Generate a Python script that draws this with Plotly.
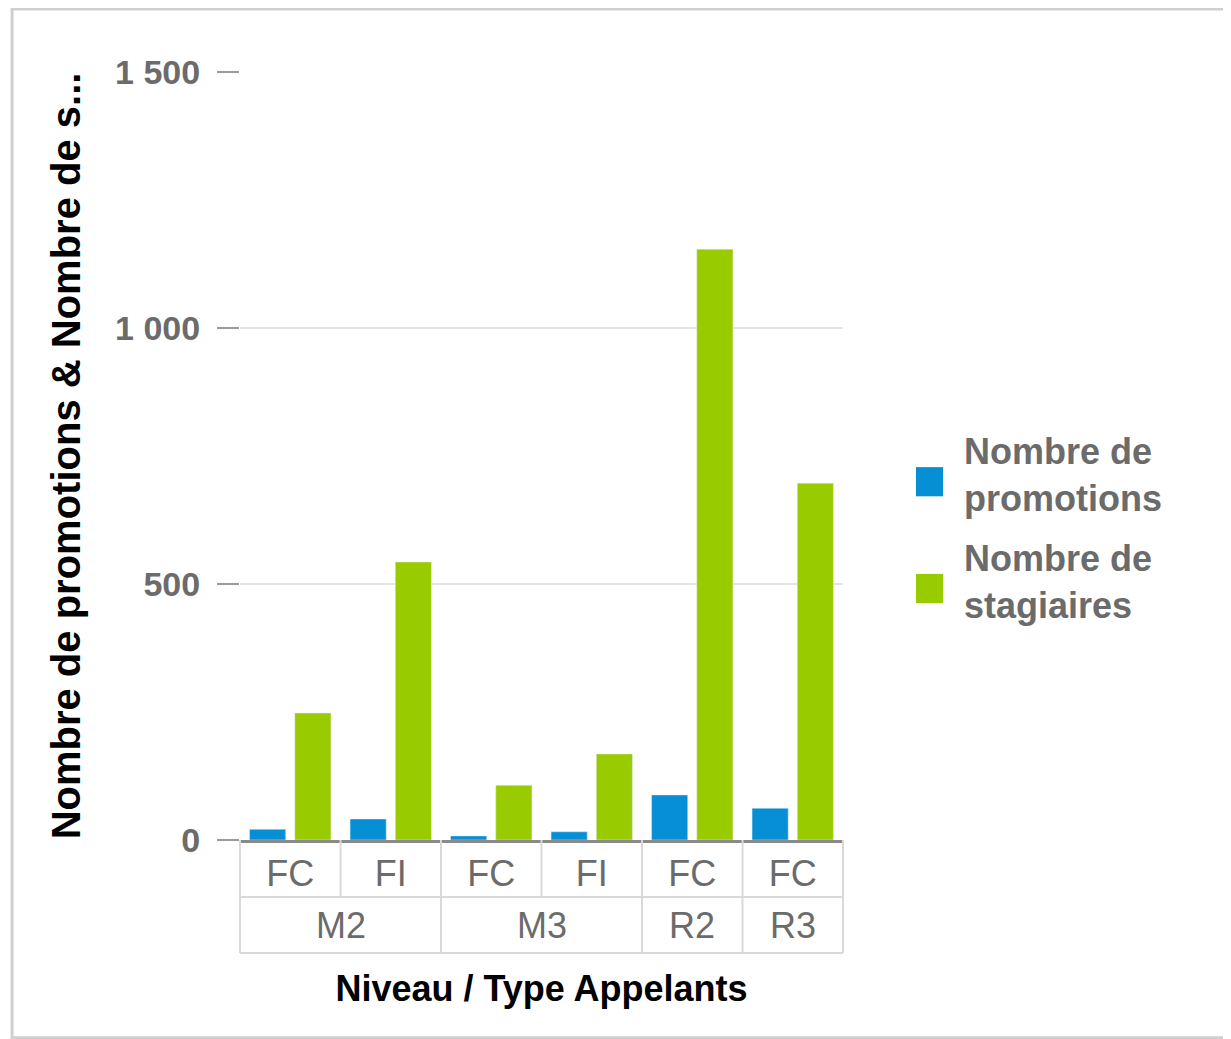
import plotly.graph_objects as go

niveau = ["M2", "M2", "M3", "M3", "R2", "R3"]
type_appelant = ["FC", "FI", "FC", "FI", "FC", "FC"]
nb_promotions = [21, 41, 8, 16, 88, 62]
nb_stagiaires = [248, 543, 107, 168, 1154, 697]
legend_labels = ["Nombre de<br>promotions", "Nombre de<br>stagiaires"]

BLUE = "#078fd6"
GREEN = "#99cc00"
GREY_TXT = "#6b6b6b"
FONT = "Liberation Sans, Arial, sans-serif"
NARROW = "Liberation Sans Narrow, Arial Narrow, Liberation Sans, sans-serif"

cats = [f"{n} {t}" for n, t in zip(niveau, type_appelant)]

fig = go.Figure()
fig.add_trace(go.Bar(x=cats, y=nb_promotions, name=legend_labels[0],
                     marker_color=BLUE, showlegend=False))
fig.add_trace(go.Bar(x=cats, y=nb_stagiaires, name=legend_labels[1],
                     marker_color=GREEN, showlegend=False))

# outer level labels (niveau), centred on their group of categories
annotations = []
groups = {}
for i, n in enumerate(niveau):
    groups.setdefault(n, []).append(i)
for n, idx in groups.items():
    annotations.append(dict(x=sum(idx) / len(idx), xref="x", y=-0.111, yref="paper",
                            text=n, showarrow=False, yanchor="middle",
                            font=dict(family=NARROW, size=36, color=GREY_TXT)))

# table-like grid under the x axis (paper coords)
shapes = []
line = dict(color="#d9d9d9", width=2)
for yy in [-0.0742, -0.147]:
    shapes.append(dict(type="line", xref="paper", yref="paper",
                       x0=0, x1=1, y0=yy, y1=yy, line=line))
bounds = [0] + [i for i in range(1, len(niveau)) if niveau[i] != niveau[i - 1]] + [len(niveau)]
for k in range(len(niveau) + 1):
    xx = k / len(niveau)
    y_bottom = -0.147 if k in bounds else -0.0742
    shapes.append(dict(type="line", xref="paper", yref="paper",
                       x0=xx, x1=xx, y0=0, y1=y_bottom, line=line))

# manual legend with big squares
leg_y = [0.475, 0.336]
for col, yy, lab in zip([BLUE, GREEN], leg_y, legend_labels):
    shapes.append(dict(type="rect", xref="paper", yref="paper",
                       x0=1.121, x1=1.166, y0=yy - 0.0085 - 0.019, y1=yy - 0.0085 + 0.019,
                       fillcolor=col, line=dict(width=0)))
    annotations.append(dict(x=1.197, xref="paper", y=yy, yref="paper",
                            text=f"<b>{lab}</b>", showarrow=False,
                            xanchor="left", yanchor="middle", align="left",
                            font=dict(family=FONT, size=36, color=GREY_TXT)))

# outer frame of the screenshot
shapes.append(dict(type="rect", xref="paper", yref="paper",
                   x0=-0.378, x1=1.70, y0=1.082, y1=-0.2575,
                   line=dict(color="#cfcfcf", width=3), layer="below"))

fig.update_layout(
    width=1223, height=1031,
    margin=dict(l=232, r=388, t=64, b=199),
    paper_bgcolor="white", plot_bgcolor="white",
    separators=", ",
    barmode="group", bargap=0.1, bargroupgap=0.2,
    font=dict(family=FONT, size=30, color=GREY_TXT),
    showlegend=False,
    shapes=shapes,
    annotations=annotations,
)
fig.update_yaxes(
    range=[0, 1500], tickvals=[0, 500, 1000, 1500], tickformat=",",
    showgrid=True, gridcolor="#e3e3e3", gridwidth=2,
    ticks="outside", ticklen=22, tickcolor="#9a9a9a", tickwidth=2,
    ticklabelstandoff=10,
    tickfont=dict(size=34, color=GREY_TXT, family=FONT, weight="bold"),
    title=dict(text="<b>Nombre de promotions & Nombre de s...</b>", standoff=22,
               font=dict(size=40, color="black", family=FONT)),
    zeroline=False, showline=False,
)
fig.update_xaxes(
    type="category",
    tickvals=cats, ticktext=type_appelant,
    showline=True, linecolor="#8a8a8a", linewidth=3,
    ticks="", ticklabelstandoff=0,
    tickfont=dict(size=36, color=GREY_TXT, family=NARROW),
    title=dict(text="<b>Niveau / Type Appelants</b>", standoff=83,
               font=dict(size=36, color="black", family=FONT)),
)
fig.write_html("out.html")
